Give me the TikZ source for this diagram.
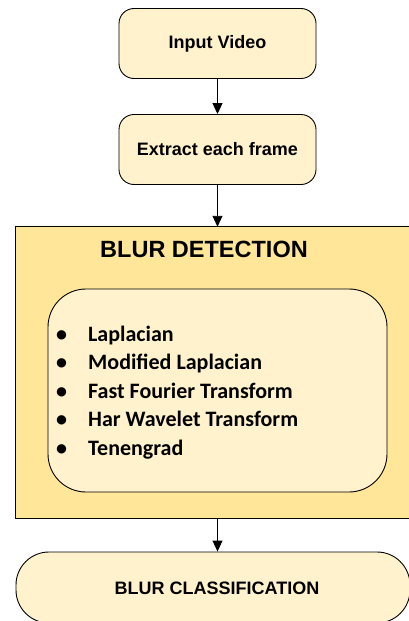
\documentclass[tikz,border=0pt]{standalone}
\usepackage{fontspec}
\setmainfont{Liberation Sans}
\newfontfamily\listfont{Carlito}
\usetikzlibrary{arrows.meta}
\definecolor{lightbox}{HTML}{FFF2CC}
\definecolor{goldbox}{HTML}{FFE699}
\tikzset{
  flowbox/.style={draw=black, line width=0.9pt, fill=lightbox, rounded corners=15pt,
    minimum width=197pt, minimum height=70pt, inner sep=0pt,
    font=\fontsize{18}{20}\selectfont\bfseries},
  flowarrow/.style={draw=black, line width=0.9pt, -{Triangle[width=10pt,length=11pt]}},
  listitem/.style={anchor=base west, inner sep=0pt, font=\listfont\fontsize{22}{26}\selectfont\bfseries}
}
\newcommand{\bulletitem}[1]{\makebox[32pt][l]{•}#1}
\begin{document}
\begin{tikzpicture}[x=1pt,y=-1pt]
\useasboundingbox (0,0) rectangle (409,621);
\fill[white] (0,0) rectangle (409,621);
\begin{scope}
\clip (0,0) rectangle (409,621);
\node[flowbox] (input) at (217.5,43.5) {Input Video};
\node[flowbox] (extract) at (217.5,149.5) {Extract each frame};
\node[fill=goldbox, minimum width=420pt, minimum height=291pt, inner sep=0pt] (detect) at (226,372.5) {};
\draw[line width=0.9pt] (detect.north east) -- (detect.north west) -- (detect.south west) -- (detect.south east);
\node[font=\fontsize{23.5}{26}\selectfont\bfseries, inner sep=0pt] (title) at (204,249) {BLUR DETECTION};
\node[draw=black, line width=0.9pt, fill=lightbox, rounded corners=38pt, minimum width=339pt, minimum height=203pt, inner sep=0pt] (inner) at (217.5,390.5) {};
\node[listitem] (item1) at (56,341) {\bulletitem{Laplacian}};
\node[listitem] (item2) at (56,369.6) {\bulletitem{Modified Laplacian}};
\node[listitem] (item3) at (56,398.2) {\bulletitem{Fast Fourier Transform}};
\node[listitem] (item4) at (56,426.8) {\bulletitem{Har Wavelet Transform}};
\node[listitem] (item5) at (56,455.4) {\bulletitem{Tenengrad}};
\node[draw=black, line width=0.9pt, fill=lightbox, rounded corners=33pt, minimum width=394pt, minimum height=71pt, inner sep=0pt] (classify) at (213,587.5) {};
\node[font=\fontsize{18}{20}\selectfont\bfseries, inner sep=0pt] (classtext) at (217,588) {BLUR CLASSIFICATION};
\draw[flowarrow] (input.south) -- (extract.north);
\draw[flowarrow] (extract.south) -- (extract.south |- detect.north);
\draw[flowarrow] (extract.south |- detect.south) -- (extract.south |- classify.north);
\end{scope}
\end{tikzpicture}
\end{document}
